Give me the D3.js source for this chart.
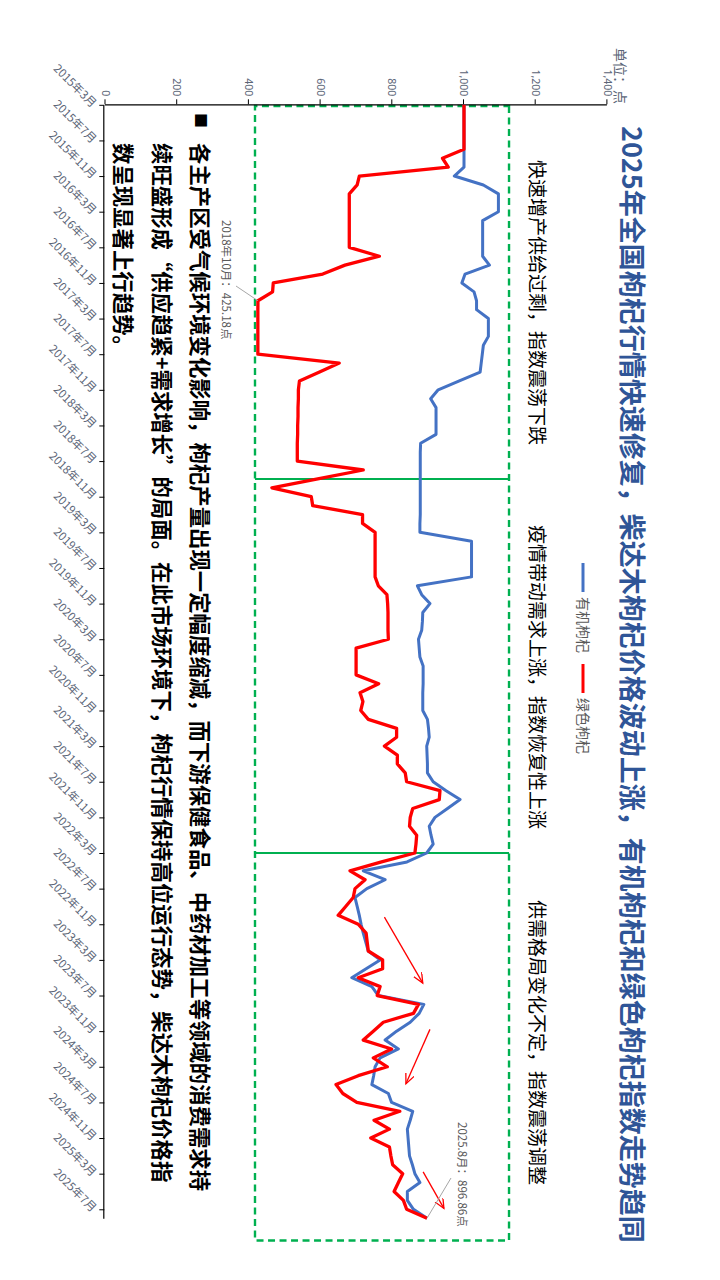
<!DOCTYPE html>
<html><head><meta charset="utf-8">
<script src="https://cdn.jsdelivr.net/npm/d3@7"></script>
<style>
body{margin:0;background:#fff}
svg{display:block}
text{font-family:"Noto Sans CJK SC","Noto Sans",sans-serif}
</style>
</head><body>
<svg id="chart" width="720" height="1280"></svg>
<script>
const categories = [
"2015年3月","2015年4月","2015年5月","2015年6月","2015年7月","2015年8月","2015年9月","2015年10月","2015年11月","2015年12月",
"2016年1月","2016年2月","2016年3月","2016年4月","2016年5月","2016年6月","2016年7月","2016年8月","2016年9月","2016年10月","2016年11月","2016年12月",
"2017年1月","2017年2月","2017年3月","2017年4月","2017年5月","2017年6月","2017年7月","2017年8月","2017年9月","2017年10月","2017年11月","2017年12月",
"2018年1月","2018年2月","2018年3月","2018年4月","2018年5月","2018年6月","2018年7月","2018年8月","2018年9月","2018年10月","2018年11月","2018年12月",
"2019年1月","2019年2月","2019年3月","2019年4月","2019年5月","2019年6月","2019年7月","2019年8月","2019年9月","2019年10月","2019年11月","2019年12月",
"2020年1月","2020年2月","2020年3月","2020年4月","2020年5月","2020年6月","2020年7月","2020年8月","2020年9月","2020年10月","2020年11月","2020年12月",
"2021年1月","2021年2月","2021年3月","2021年4月","2021年5月","2021年6月","2021年7月","2021年8月","2021年9月","2021年10月","2021年11月","2021年12月",
"2022年1月","2022年2月","2022年3月","2022年4月","2022年5月","2022年6月","2022年7月","2022年8月","2022年9月","2022年10月","2022年11月","2022年12月",
"2023年1月","2023年2月","2023年3月","2023年4月","2023年5月","2023年6月","2023年7月","2023年8月","2023年9月","2023年10月","2023年11月","2023年12月",
"2024年1月","2024年2月","2024年3月","2024年4月","2024年5月","2024年6月","2024年7月","2024年8月","2024年9月","2024年10月","2024年11月","2024年12月",
"2025年1月","2025年2月","2025年3月","2025年4月","2025年5月","2025年6月","2025年7月","2025年8月"
];
const tickLabels = [
"2015年3月","2015年7月","2015年11月","2016年3月","2016年7月","2016年11月","2017年3月","2017年7月","2017年11月",
"2018年3月","2018年7月","2018年11月","2019年3月","2019年7月","2019年11月","2020年3月","2020年7月","2020年11月",
"2021年3月","2021年7月","2021年11月","2022年3月","2022年7月","2022年11月","2023年3月","2023年7月","2023年11月",
"2024年3月","2024年7月","2024年11月","2025年3月","2025年7月"
];
const organicValues = [
1000,1000,1000,1000,1000,1000,1000,1000,973,1054,
1096,1096,1096,1052,1052,1052,1052,1052,1071,1003,
994,1028,1035,1035,1068,1068,1068,1054,1051,1048,
1045,987,928,907,922,922,922,922,879,878,
878,878,878,878,878,878,878,877,877,1021,
1021,1021,1021,1021,870,882,905,885,884,882,
873,875,877,886,886,886,885,885,885,898,
901,903,896,897,898,898,914,950,989,954,
919,903,908,914,896,841,719,780,729,696,
702,708,713,719,726,733,766,727,687,743,
761,888,875,850,812,780,817,766,752,748,
743,789,798,857,850,842,844,846,848,856,
863,877,842,842,859,896.86
];
const greenValues = [
1000,1000,1000,1000,1000,1000,940,956,708,702,
680,680,680,680,680,680,680,764,668,606,
468,466,425.18,425,425,425,425,425,425,652,
597,541,538,538,537,537,536,536,535,535,
535,719,592,464,574,578,717,717,752,752,
752,752,752,752,761,785,787,788,788,788,
789,699,699,699,699,762,710,718,712,733,
812,812,778,814,814,836,840,933,931,857,
850,848,868,866,863,770,682,724,696,691,
670,649,705,727,730,733,773,773,705,766,
758,873,859,775,747,719,798,747,786,705,
643,662,701,821,749,792,740,792,796,801,
829,817,805,831,840,896.86
];
const seriesNames = ["有机枸杞","绿色枸杞"];
const seriesColors = ["#4472C4","#FF0000"];
const valueTicks = [0,200,400,600,800,1000,1200,1400];
const titleText = "2025年全国枸杞行情快速修复，柴达木枸杞价格波动上涨，有机枸杞和绿色枸杞指数走势趋同";
const unitText = "单位：点";
const phaseTexts = ["快速增产供给过剩，指数震荡下跌","疫情带动需求上涨，指数恢复性上涨","供需格局变化不定，指数震荡调整"];
const phaseBounds = [0.13, 42, 84, 127.5];
const phaseValueRange = [417, 1125.6];
const bulletText = "■";
const bodyLines = [
"各主产区受气候环境变化影响，枸杞产量出现一定幅度缩减，而下游保健食品、中药材加工等领域的消费需求持",
"续旺盛形成“供应趋紧+需求增长”的局面。在此市场环境下，枸杞行情保持高位运行态势，柴达木枸杞价格指",
"数呈现显著上行趋势。"
];
const pointNotes = [
  {index:22, text:"2018年10月：425.18点"},
  {index:125, text:"2025.8月：896.86点"}
];
const trendArrows = [
  [91.2,778,98.6,885],
  [103.8,905,109.9,838],
  [119.8,886,123.9,944]
];

// landscape drawing frame, rotated 90deg clockwise into the portrait page
const svg = d3.select("#chart");
svg.append("rect").attr("width",720).attr("height",1280).attr("fill","#fff");
const defs = svg.append("defs");
defs.append("marker").attr("id","ah").attr("markerUnits","userSpaceOnUse")
  .attr("markerWidth",12).attr("markerHeight",10).attr("refX",10).attr("refY",4.5)
  .attr("orient","auto")
  .append("path").attr("d","M0,0 L10,4.5 L0,9").attr("fill","none").attr("stroke","#FF0000").attr("stroke-width",1.3);

const g = svg.append("g").attr("transform","translate(720,0) rotate(90)");

const x = d3.scaleLinear().domain([0, categories.length-1]).range([104.8, 1218.2]);
const y = d3.scaleLinear().domain([0,1400]).range([614.5, 112.6]);

// phase box
g.append("rect")
  .attr("x", x(phaseBounds[0])).attr("y", y(phaseValueRange[1]))
  .attr("width", x(phaseBounds[3]) - x(phaseBounds[0]))
  .attr("height", y(phaseValueRange[0]) - y(phaseValueRange[1]))
  .attr("fill","none").attr("stroke","#00B050").attr("stroke-width",2.4).attr("stroke-dasharray","7,4.5");
[phaseBounds[1], phaseBounds[2]].forEach(b => {
  g.append("line").attr("x1",x(b)).attr("x2",x(b))
    .attr("y1",y(phaseValueRange[1])).attr("y2",y(phaseValueRange[0]))
    .attr("stroke","#00B050").attr("stroke-width",2);
});

// axes
const tickIdx = tickLabels.map(t => categories.indexOf(t));
const xAxis = g.append("g").attr("transform","translate(0,615.7)")
  .call(d3.axisBottom(x).tickValues(tickIdx).tickFormat(i => categories[i]).tickSize(5).tickSizeOuter(0));
xAxis.select(".domain").attr("stroke","#000").attr("stroke-width",1.2);
xAxis.selectAll(".tick line").attr("stroke","#000");
xAxis.selectAll(".tick text")
  .attr("x",-7).attr("y",7).attr("dy","0.35em")
  .attr("transform","rotate(-45)").style("text-anchor","end")
  .attr("fill","#5B6577").style("font-size","11.5px").style("font-family","'Noto Sans CJK SC',sans-serif");

const yAxis = g.append("g").attr("transform","translate(104.3,0)")
  .call(d3.axisLeft(y).tickValues(valueTicks).tickFormat(d3.format(",")).tickSize(5).tickPadding(3).tickSizeOuter(0));
yAxis.select(".domain").attr("stroke","#000").attr("stroke-width",1.2);
yAxis.selectAll(".tick line").attr("stroke","#000");
yAxis.selectAll(".tick text").attr("fill","#5B6577").style("font-size","10.5px").style("font-family","'Noto Sans','DejaVu Sans',sans-serif");

// lines
const line = d3.line().x((d,i) => x(i)).y(d => y(d));
[organicValues, greenValues].forEach((vals, k) => {
  g.append("path").datum(vals).attr("d", line).attr("fill","none")
    .attr("stroke", seriesColors[k]).attr("stroke-width", k===1 ? 3.3 : 3)
    .attr("stroke-linejoin","round");
});

// trend arrows
trendArrows.forEach(a => {
  g.append("line").attr("x1",x(a[0])).attr("y1",y(a[1])).attr("x2",x(a[2])).attr("y2",y(a[3]))
    .attr("stroke","#FF0000").attr("stroke-width",1.3).attr("marker-end","url(#ah)");
});

// point notes
const noteLayout = [
  {tx:220, ty:498, lx:286, ly:484},
  {tx:1122, ty:262.5, lx:1178, ly:269}
];
pointNotes.forEach((n,k) => {
  const L = noteLayout[k];
  g.append("line").attr("x1",L.lx).attr("y1",L.ly).attr("x2",x(n.index)).attr("y2",y(greenValues[n.index]))
    .attr("stroke","#A6A6A6").attr("stroke-width",1);
  g.append("text").attr("x",L.tx).attr("y",L.ty).text(n.text)
    .attr("fill","#595959").style("font-size","11.5px");
});

// title & unit
g.append("text").attr("x",126).attr("y",98).text(titleText)
  .attr("fill","#2F5597").style("font-size","27px").style("font-weight","bold");
g.append("text").attr("x",48).attr("y",105).text(unitText)
  .attr("fill","#5B6577").style("font-size","14px");

// legend
const legendX = [563, 664];
seriesNames.forEach((nm,k) => {
  g.append("line").attr("x1",legendX[k]).attr("x2",legendX[k]+29).attr("y1",137).attr("y2",137)
    .attr("stroke",seriesColors[k]).attr("stroke-width",3);
  g.append("text").attr("x",legendX[k]+34).attr("y",142).text(nm)
    .attr("fill","#595959").style("font-size","14px");
});

// phase texts
const phaseX = [160, 525, 900];
phaseTexts.forEach((t,k) => {
  g.append("text").attr("x",phaseX[k]).attr("y",190).text(t)
    .attr("fill","#000").style("font-size","19px");
});

// body text
g.append("text").attr("x",113).attr("y",525).text(bulletText)
  .attr("fill","#000").style("font-size","15px");
const bodyY = [528, 566, 605];
bodyLines.forEach((t,k) => {
  g.append("text").attr("x",143).attr("y",bodyY[k]).text(t)
    .attr("fill","#000").style("font-size","21.4px").style("font-weight","bold");
});
</script>
</body></html>
